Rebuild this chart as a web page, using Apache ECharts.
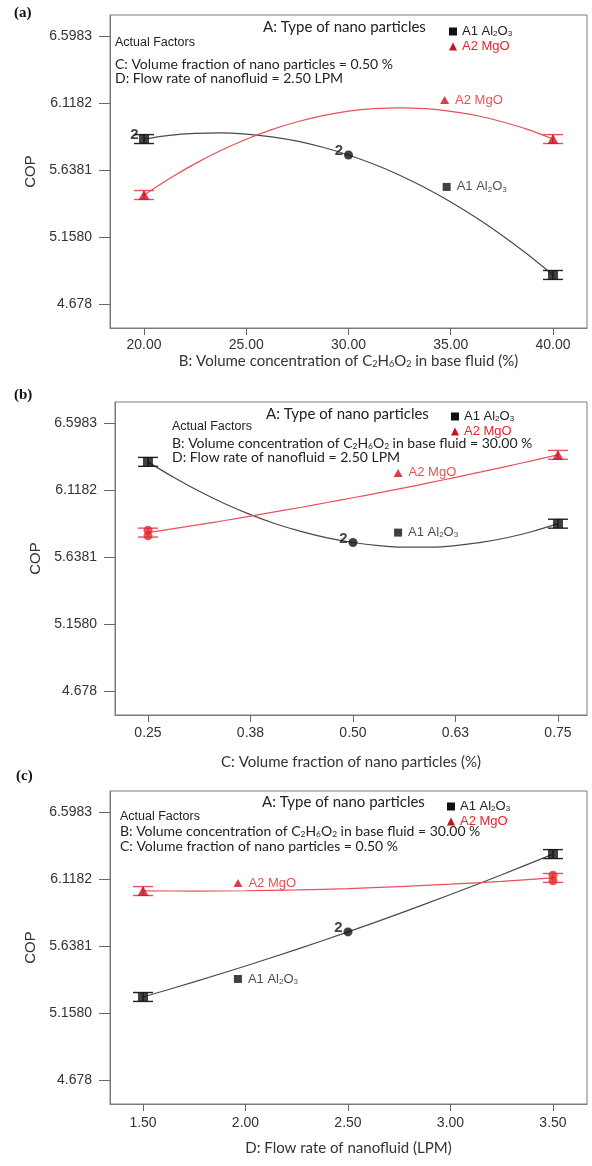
<!DOCTYPE html>
<html><head><meta charset="utf-8">
<script src="https://cdn.jsdelivr.net/npm/echarts@6/dist/echarts.min.js"></script>
<style>html,body{margin:0;padding:0;background:#fff}#c{width:592px;height:1166px}</style>
</head><body><div id="c"></div>
<script>
// ---------- shared y axis ----------
const yTicks = [4.678, 5.158, 5.6381, 6.1182, 6.5983];
const yTickLabels = ['4.678', '5.1580', '5.6381', '6.1182', '6.5983'];
const yMin = 4.506, yMax = 6.749;
const lsdHalf = 0.032;

// ---------- panel (a) ----------
const xTicksA = [20, 25, 30, 35, 40];
const xTickLabelsA = ['20.00', '25.00', '30.00', '35.00', '40.00'];
const curveXA = [20, 21.25, 22.5, 23.75, 25, 26.25, 27.5, 28.75, 30, 31.25, 32.5, 33.75, 35, 36.25, 37.5, 38.75, 40];
const al2o3CurveA = [5.860, 5.887, 5.901, 5.905, 5.896, 5.876, 5.845, 5.801, 5.746, 5.679, 5.601, 5.511, 5.409, 5.296, 5.171, 5.034, 4.886];
const mgoCurveA = [5.459, 5.578, 5.684, 5.778, 5.859, 5.928, 5.984, 6.028, 6.060, 6.078, 6.084, 6.078, 6.059, 6.029, 5.984, 5.929, 5.860];
const al2o3SquaresA = [[20, 5.860], [40, 4.886]];
const al2o3CenterA = [[30, 5.746]];
const mgoTrianglesA = [[20, 5.459], [40, 5.860]];
const mgoDotsA = [];
const mgoBarsA = [[20, 5.459], [40, 5.860]];
const twoLabelsA = [[20, 5.860], [30, 5.746]];
const mgoTagA = [34.7, 6.140];
const al2o3TagA = [34.8, 5.517];

// ---------- panel (b) ----------
const xTicksB = [0.25, 0.375, 0.5, 0.625, 0.75];
const xTickLabelsB = ['0.25', '0.38', '0.50', '0.63', '0.75'];
const curveXB = [0.25, 0.28125, 0.3125, 0.34375, 0.375, 0.40625, 0.4375, 0.46875, 0.5, 0.53125, 0.5625, 0.59375, 0.625, 0.65625, 0.6875, 0.71875, 0.75];
const al2o3CurveB = [6.320, 6.209, 6.109, 6.020, 5.942, 5.875, 5.820, 5.775, 5.742, 5.720, 5.709, 5.709, 5.720, 5.743, 5.776, 5.821, 5.877];
const mgoCurveB = [5.813, 5.841, 5.870, 5.900, 5.931, 5.963, 5.995, 6.029, 6.063, 6.098, 6.133, 6.171, 6.209, 6.248, 6.288, 6.329, 6.370];
const al2o3SquaresB = [[0.25, 6.320], [0.75, 5.877]];
const al2o3CenterB = [[0.5, 5.742]];
const mgoTrianglesB = [[0.75, 6.370]];
const mgoDotsB = [[0.25, 5.830], [0.25, 5.790]];
const mgoBarsB = [[0.25, 5.813], [0.75, 6.370]];
const twoLabelsB = [[0.5, 5.742]];
const mgoTagB = [0.555, 6.241];
const al2o3TagB = [0.555, 5.813];

// ---------- panel (c) ----------
const xTicksC = [1.5, 2.0, 2.5, 3.0, 3.5];
const xTickLabelsC = ['1.50', '2.00', '2.50', '3.00', '3.50'];
const curveXC = [1.5, 1.75, 2.0, 2.25, 2.5, 2.75, 3.0, 3.25, 3.5];
const al2o3CurveC = [5.273, 5.381, 5.495, 5.614, 5.739, 5.870, 6.007, 6.149, 6.297];
const mgoCurveC = [6.033, 6.032, 6.034, 6.040, 6.050, 6.064, 6.081, 6.102, 6.127];
const al2o3SquaresC = [[1.5, 5.273], [3.5, 6.297]];
const al2o3CenterC = [[2.5, 5.739]];
const mgoTrianglesC = [[1.5, 6.032]];
const mgoDotsC = [[3.5, 6.145], [3.5, 6.105]];
const mgoBarsC = [[1.5, 6.032], [3.5, 6.126]];
const twoLabelsC = [[2.5, 5.739]];
const mgoTagC = [1.963, 6.090];
const al2o3TagC = [1.963, 5.402];

// ---------- styles ----------
const BLACK = '#111111', BLACK_LINE = '#4a4a4a', RED_LINE = '#e8505a', RED_MARK = '#cc1020', RED_TEXT = '#e0262f';
const AX = '#7a7a7a';
const SANS = '"Liberation Sans", Arial, sans-serif';
const HUM = 'Lato, "Open Sans", sans-serif';

const panels = [
  { grid: { left: 110, right: 5, top: 15, height: 313 }, xmin: 18.337, xmax: 41.663, xt: xTicksA, xl: xTickLabelsA,
    xname: 'B: Volume concentration of C{s|2}H{s|6}O{s|2} in base fluid (%)', nameGap: 26, lblMargin: 10, yNameGap: 68,
    cx: curveXA, al: al2o3CurveA, mg: mgoCurveA, sq: al2o3SquaresA, ce: al2o3CenterA, tri: mgoTrianglesA, dots: mgoDotsA,
    mbars: mgoBarsA, twos: twoLabelsA, mtag: mgoTagA, atag: al2o3TagA },
  { grid: { left: 115, right: 5, top: 402, height: 313 }, xmin: 0.2098, xmax: 0.7854, xt: xTicksB, xl: xTickLabelsB,
    xname: 'C: Volume fraction of nano particles (%)', nameGap: 40, lblMargin: 11, yNameGap: 66,
    cx: curveXB, al: al2o3CurveB, mg: mgoCurveB, sq: al2o3SquaresB, ce: al2o3CenterB, tri: mgoTrianglesB, dots: mgoDotsB,
    mbars: mgoBarsB, twos: twoLabelsB, mtag: mgoTagB, atag: al2o3TagB },
  { grid: { left: 110, right: 5, top: 791, height: 313 }, xmin: 1.339, xmax: 3.666, xt: xTicksC, xl: xTickLabelsC,
    xname: 'D: Flow rate of nanofluid (LPM)', nameGap: 37, lblMargin: 12, yNameGap: 62,
    cx: curveXC, al: al2o3CurveC, mg: mgoCurveC, sq: al2o3SquaresC, ce: al2o3CenterC, tri: mgoTrianglesC, dots: mgoDotsC,
    mbars: mgoBarsC, twos: twoLabelsC, mtag: mgoTagC, atag: al2o3TagC }
];

function lookup(vals, labels, v) {
  for (let i = 0; i < vals.length; i++) if (Math.abs(vals[i] - v) < 1e-6) return labels[i];
  return '';
}

function barSeries(gi, pts, color) {
  return {
    type: 'custom', xAxisIndex: gi, yAxisIndex: gi, silent: true, z: 3,
    data: pts.map(p => [p[0], p[1] - lsdHalf, p[1] + lsdHalf]),
    encode: { x: 0, y: [1, 2] },
    renderItem: (params, api) => {
      const lo = api.coord([api.value(0), api.value(1)]);
      const hi = api.coord([api.value(0), api.value(2)]);
      const w = 10;
      const st = { stroke: color, lineWidth: 1.4 };
      return { type: 'group', children: [
        { type: 'line', shape: { x1: lo[0], y1: lo[1], x2: hi[0], y2: hi[1] }, style: st },
        { type: 'line', shape: { x1: lo[0] - w, y1: lo[1], x2: lo[0] + w, y2: lo[1] }, style: st },
        { type: 'line', shape: { x1: hi[0] - w, y1: hi[1], x2: hi[0] + w, y2: hi[1] }, style: st }
      ] };
    }
  };
}

const grids = [], xAxes = [], yAxes = [], series = [], legends = [];
panels.forEach((p, gi) => {
  grids.push(Object.assign({ show: true, borderColor: AX, borderWidth: 1, backgroundColor: 'transparent' }, p.grid));
  xAxes.push({
    type: 'value', gridIndex: gi, min: p.xmin, max: p.xmax,
    name: p.xname, nameLocation: 'middle', nameGap: p.nameGap,
    nameTextStyle: { fontFamily: HUM, fontSize: 15, color: '#333', rich: { s: { fontFamily: HUM, fontSize: 9, color: '#333', padding: [6, 0, 0, 0] } } },
    axisLine: { show: true, onZero: false, lineStyle: { color: AX } },
    axisTick: { show: true, length: 7, customValues: p.xt, lineStyle: { color: '#666' } },
    axisLabel: { customValues: p.xt, margin: p.lblMargin, fontFamily: SANS, fontSize: 14, color: '#333',
      formatter: v => lookup(p.xt, p.xl, v) },
    splitLine: { show: false }
  });
  yAxes.push({
    type: 'value', gridIndex: gi, min: yMin, max: yMax,
    name: 'COP', nameLocation: 'middle', nameGap: p.yNameGap,
    nameTextStyle: { fontFamily: SANS, fontSize: 15, color: '#333' },
    axisLine: { show: true, onZero: false, lineStyle: { color: AX } },
    axisTick: { show: true, length: 11, customValues: yTicks, lineStyle: { color: '#666' } },
    axisLabel: { customValues: yTicks, margin: 18, fontFamily: SANS, fontSize: 14, color: '#333',
      formatter: v => lookup(yTicks, yTickLabels, v) },
    splitLine: { show: false }
  });
  series.push({ name: 'A1 Al2O3', type: 'line', xAxisIndex: gi, yAxisIndex: gi, smooth: 0.3, symbol: 'none',
    lineStyle: { color: BLACK_LINE, width: 1.2 }, itemStyle: { color: BLACK }, data: p.cx.map((x, i) => [x, p.al[i]]), z: 2 });
  series.push({ name: 'A2 MgO', type: 'line', xAxisIndex: gi, yAxisIndex: gi, smooth: 0.3, symbol: 'none',
    lineStyle: { color: RED_LINE, width: 1.2 }, itemStyle: { color: RED_MARK }, data: p.cx.map((x, i) => [x, p.mg[i]]), z: 2 });
  series.push(barSeries(gi, p.sq, '#222'));
  series.push(barSeries(gi, p.mbars, RED_LINE));
  series.push({ name: 'A1 Al2O3', type: 'scatter', xAxisIndex: gi, yAxisIndex: gi, symbol: 'rect', symbolSize: [10, 9],
    itemStyle: { color: BLACK }, data: p.sq, z: 4 });
  series.push({ name: 'A1 Al2O3', type: 'scatter', xAxisIndex: gi, yAxisIndex: gi, symbol: 'circle', symbolSize: 9,
    itemStyle: { color: BLACK }, data: p.ce, z: 4 });
  series.push({ name: 'A2 MgO', type: 'scatter', xAxisIndex: gi, yAxisIndex: gi, symbol: 'triangle', symbolSize: [11, 10],
    itemStyle: { color: RED_MARK }, data: p.tri, z: 4 });
  series.push({ name: 'A2 MgO', type: 'scatter', xAxisIndex: gi, yAxisIndex: gi, symbol: 'circle', symbolSize: 9,
    itemStyle: { color: '#e02a30' }, data: p.dots, z: 4 });
  // "2" replicate labels
  series.push({ type: 'scatter', xAxisIndex: gi, yAxisIndex: gi, symbol: 'circle', symbolSize: 1, silent: true, data: p.twos, z: 6,
    itemStyle: { color: 'rgba(0,0,0,0)' },
    label: { show: true, position: 'left', distance: 5, offset: [0, -4], formatter: '2', fontFamily: SANS, fontWeight: 'bold', fontSize: 15, color: '#111' } });
  // series tags in the plot
  series.push({ type: 'scatter', xAxisIndex: gi, yAxisIndex: gi, symbol: 'triangle', symbolSize: [9, 8], silent: true, z: 5,
    itemStyle: { color: RED_MARK }, data: [p.mtag],
    label: { show: true, position: 'right', distance: 6, formatter: 'A2 MgO', fontFamily: SANS, fontSize: 13, color: RED_TEXT } });
  series.push({ type: 'scatter', xAxisIndex: gi, yAxisIndex: gi, symbol: 'rect', symbolSize: [8, 8], silent: true, z: 5,
    itemStyle: { color: BLACK }, data: [p.atag],
    label: { show: true, position: 'right', distance: 6, formatter: 'A1 Al{s|2}O{s|3}', fontFamily: SANS, fontSize: 13, color: '#222',
      rich: { s: { fontFamily: SANS, fontSize: 8, color: '#222', padding: [5, 0, 0, 0] } } } });
});

const legendPos = [{ left: 444, top: 20 }, { left: 446, top: 405 }, { left: 442, top: 795 }];
legendPos.forEach(lp => {
  legends.push(Object.assign({
    orient: 'vertical', itemWidth: 8, itemHeight: 8, itemGap: 2, selectedMode: false,
    textStyle: { fontFamily: SANS, fontSize: 13, color: '#222', rich: { s: { fontFamily: SANS, fontSize: 8, color: '#222', padding: [5, 0, 0, 0] } } },
    formatter: n => n === 'A1 Al2O3' ? 'A1 Al{s|2}O{s|3}' : n,
    data: [
      { name: 'A1 Al2O3', icon: 'rect', itemStyle: { color: BLACK } },
      { name: 'A2 MgO', icon: 'triangle', itemStyle: { color: RED_MARK }, textStyle: { color: RED_TEXT } }
    ]
  }, lp));
});

function txt(x, y, text, font, size, bold) {
  return { type: 'text', left: x, top: y, silent: true,
    style: { text: text, fontFamily: font, fontSize: size, fontWeight: bold ? 'bold' : 'normal', fill: bold ? '#111' : '#222',
      rich: { s: { fontFamily: font, fontSize: size * 0.6, fill: '#222', padding: [6, 0, 0, 0] } } } };
}
const SERIF = '"Liberation Serif", serif';
const graphics = [
  txt(14, 6, '(a)', SERIF, 15, true),
  txt(263, 20, 'A: Type of nano particles', HUM, 15),
  txt(115, 36, 'Actual Factors', SANS, 12.5),
  txt(115, 57, 'C: Volume fraction of nano particles = 0.50 %', HUM, 14),
  txt(115, 71, 'D: Flow rate of nanofluid = 2.50 LPM', HUM, 14),

  txt(14, 388, '(b)', SERIF, 15, true),
  txt(266, 407, 'A: Type of nano particles', HUM, 15),
  txt(172, 420, 'Actual Factors', SANS, 12.5),
  txt(172, 436, 'B: Volume concentration of C{s|2}H{s|6}O{s|2} in base fluid = 30.00 %', HUM, 14),
  txt(172, 450, 'D: Flow rate of nanofluid = 2.50 LPM', HUM, 14),

  txt(16, 769, '(c)', SERIF, 15, true),
  txt(262, 795, 'A: Type of nano particles', HUM, 15),
  txt(120, 810, 'Actual Factors', SANS, 12.5),
  txt(120, 824, 'B: Volume concentration of C{s|2}H{s|6}O{s|2} in base fluid = 30.00 %', HUM, 14),
  txt(120, 839, 'C: Volume fraction of nano particles = 0.50 %', HUM, 14)
];

const chart = echarts.init(document.getElementById('c'), null, { renderer: 'canvas' });
chart.setOption({
  animation: false,
  backgroundColor: '#fff',
  grid: grids, xAxis: xAxes, yAxis: yAxes, series: series, legend: legends, graphic: graphics
});
</script></body></html>
